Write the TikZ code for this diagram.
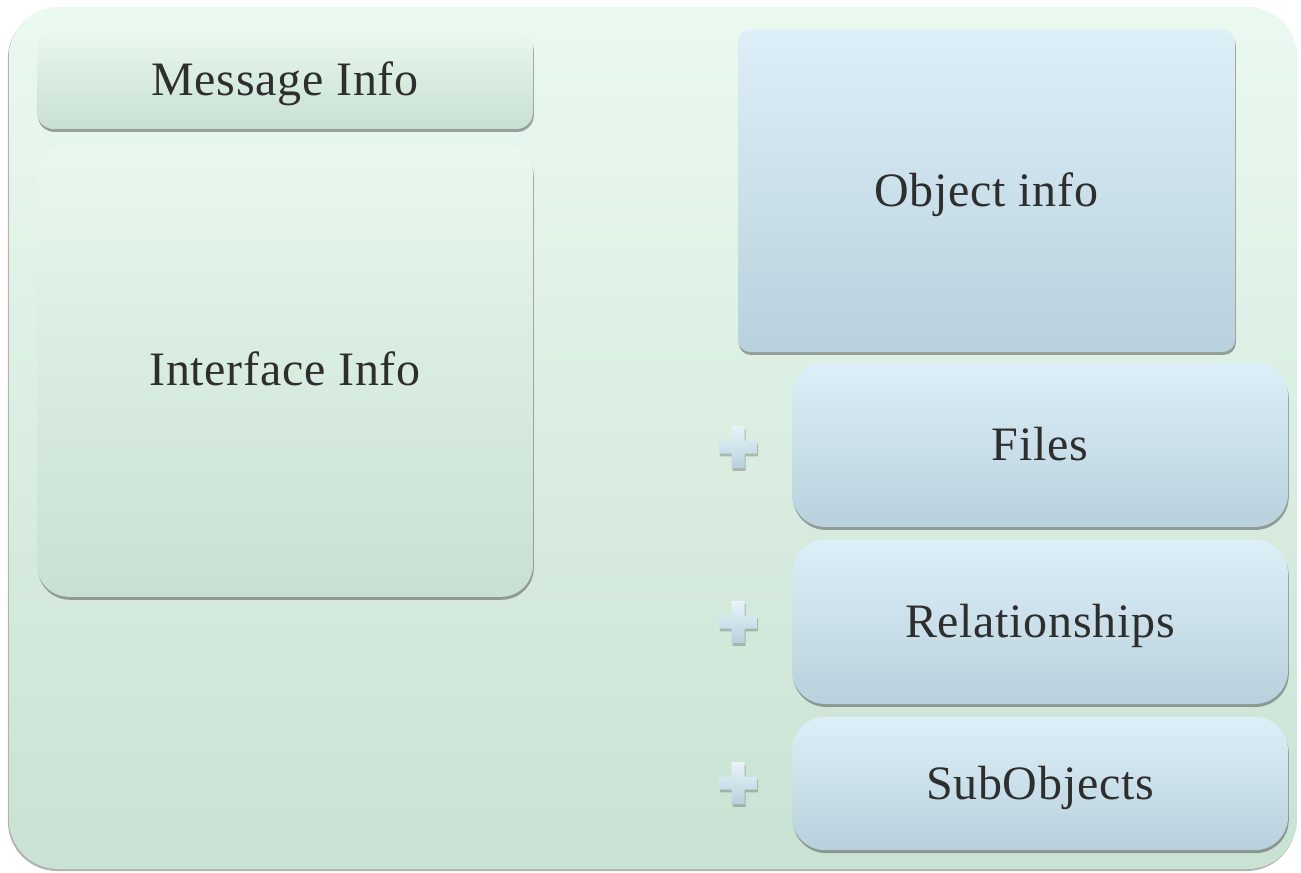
\documentclass[tikz,border=0pt]{standalone}
\usepackage{fontspec}
\setmainfont[LetterSpace=1.5]{Liberation Serif}
\usetikzlibrary{shadows}
\definecolor{outtop}{HTML}{EBF9F0}
\definecolor{outbot}{HTML}{C9E2D3}
\definecolor{grtop}{HTML}{E9F8EE}
\definecolor{grbot}{HTML}{C8E0D2}
\definecolor{bltop}{HTML}{DDEFF7}
\definecolor{blbot}{HTML}{B8D1DD}
\definecolor{txt}{HTML}{2E2E2E}
\tikzset{
  softshadow/.style={drop shadow={shadow xshift=0.6pt, shadow yshift=-2.2pt, opacity=0.55, fill=black!65}},
  boxtext/.style={inner sep=0pt, text=txt, font=\fontsize{36}{40}\selectfont,
    text height=23.8pt, text depth=0pt},
  greenbox/.style={draw=none, top color=grtop, bottom color=grbot, softshadow, boxtext},
  bluebox/.style={draw=none, top color=bltop, bottom color=blbot, softshadow, boxtext},
  plusmark/.pic={
    \path[top color=bltop!70!white, bottom color=blbot,
      drop shadow={shadow xshift=0.8pt, shadow yshift=-2.2pt, opacity=0.4, fill=black!60}]
      (-19,-6.5) -- (-6.5,-6.5) -- (-6.5,-21) -- (6.5,-21) -- (6.5,-6.5) -- (19,-6.5)
      -- (19,6.5) -- (6.5,6.5) -- (6.5,21) -- (-6.5,21) -- (-6.5,6.5) -- (-19,6.5) -- cycle;
  }
}
\begin{document}
\begin{tikzpicture}[x=0.75pt, y=-0.75pt]
\useasboundingbox[fill=white] (0,0) rectangle (1301,873);
% outer panel
\node[draw=none, top color=outtop, bottom color=outbot, rounded corners=37pt,
  minimum width=966pt, minimum height=646.5pt, inner sep=0pt,
  drop shadow={shadow xshift=-0.8pt, shadow yshift=-1.5pt, opacity=0.5, fill=black!60}]
  (panel) at (653,438) {};
% left column
\node[greenbox, rounded corners=12.5pt, minimum width=372pt, minimum height=73.5pt]
  (msg) at (285,80) {Message Info};
\node[greenbox, rounded corners=24pt, minimum width=372pt, minimum height=341pt]
  (iface) at (285,369.5) {Interface Info};
% right column
\node[bluebox, rounded corners=9pt, minimum width=372.75pt, minimum height=241.5pt]
  (obj) at (986.5,191) {Object info};
\node[bluebox, rounded corners=25pt, minimum width=372pt, minimum height=123.75pt]
  (files) at (1040,444.5) {Files};
\node[bluebox, rounded corners=25pt, minimum width=372pt, minimum height=123pt]
  (rel) at (1040,622) {Relationships};
\node[bluebox, rounded corners=25pt, minimum width=372pt, minimum height=100pt]
  (sub) at (1040,783.5) {SubObjects};
% plus signs
\coordinate (p1) at (738,447);
\coordinate (p2) at (738,622);
\coordinate (p3) at (738,783);
\pic at (p1) {plusmark};
\pic at (p2) {plusmark};
\pic at (p3) {plusmark};
\end{tikzpicture}
\end{document}
